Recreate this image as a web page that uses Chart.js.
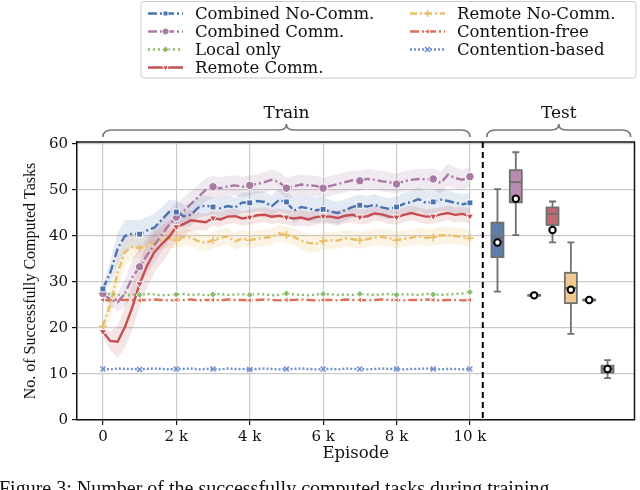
<!DOCTYPE html>
<html lang="en">
<head>
<meta charset="UTF-8">
<title>Successfully Computed Tasks</title>
<script src="https://cdn.jsdelivr.net/npm/chart.js"></script>
<style>
    html, body { margin: 0; padding: 0; background: #fff; overflow: hidden; }
    #wrap { position: relative; width: 640px; height: 490px; }
    #caption { position: absolute; left: -1px; top: 477px; font: 20px "Liberation Serif", serif; white-space: nowrap; color: #111; }
</style>
</head>
<body>
<div id="wrap">
    <canvas id="tasksChart" width="640" height="490"></canvas>
    <div id="caption">Figure 3: Number of the successfully computed tasks during training</div>
</div>

<script>
    // training curves, one value every 200 episodes
    const episodes = [0,200,400,600,800,1000,1200,1400,1600,1800,2000,2200,2400,2600,2800,3000,3200,3400,3600,3800,4000,
        4200,4400,4600,4800,5000,5200,5400,5600,5800,6000,6200,6400,6600,6800,7000,7200,7400,7600,7800,8000,
        8200,8400,8600,8800,9000,9200,9400,9600,9800,10000];

    const combinedNoComm = [28.5,32.0,37.2,40.0,40.5,40.4,41.2,41.8,43.5,45.2,45.2,44.3,44.6,46.2,46.6,46.3,46.0,46.5,46.2,47.3,47.2,
        47.6,47.4,46.5,47.8,47.4,45.5,46.3,46.0,45.6,45.8,45.3,45.0,45.6,46.3,46.7,46.4,46.8,46.2,45.9,46.3,
        47.0,47.4,48.0,47.2,47.4,47.9,47.6,47.2,46.9,47.2];
    const combinedNoCommSpread = [0.8,2.5,3.5,3.5,3.0,3.0,3.0,3.0,2.8,2.6,2.5,2.5,2.4,2.3,2.2,2.2,2.2,2.2,2.2,2.2,2.2,
        2.2,2.2,2.3,2.4,2.5,2.8,2.8,2.8,2.8,2.6,2.5,2.5,2.4,2.3,2.3,2.3,2.3,2.3,2.3,2.3,
        2.4,2.5,2.6,2.6,2.5,2.4,2.3,2.2,2.2,2.2];

    const combinedComm = [27.5,26.2,25.6,27.5,31.0,33.3,35.8,38.0,40.2,42.4,44.1,45.4,47.0,48.5,50.0,50.7,50.4,50.8,51.0,50.7,51.0,
        51.3,51.7,52.2,51.7,50.4,50.8,51.2,51.0,50.9,50.4,50.9,51.3,51.7,52.1,52.0,52.4,52.2,51.9,51.7,51.3,
        51.9,52.2,52.4,52.3,52.4,51.5,53.3,52.6,52.2,52.9];
    const combinedCommSpread = [1.0,1.5,2.0,3.0,4.0,4.0,4.0,3.8,3.5,3.2,3.0,3.0,2.8,2.6,2.5,2.4,2.3,2.3,2.2,2.2,2.2,
        2.2,2.2,2.2,2.2,2.3,2.3,2.2,2.2,2.2,2.2,2.2,2.2,2.2,2.2,2.2,2.2,2.2,2.2,2.2,2.2,
        2.2,2.2,2.2,2.2,2.3,2.4,2.4,2.3,2.2,2.2];

    const localOnly = [27.3,27.4,27.2,27.1,27.3,27.2,27.4,27.3,27.1,27.2,27.3,27.4,27.2,27.3,27.1,27.3,27.4,27.2,27.3,27.3,27.2,
        27.4,27.3,27.1,27.2,27.5,27.3,27.2,27.1,27.3,27.4,27.3,27.2,27.3,27.2,27.4,27.3,27.2,27.3,27.4,27.2,
        27.3,27.3,27.2,27.4,27.3,27.2,27.3,27.4,27.5,27.8];

    const remoteComm = [19.2,17.2,17.0,20.2,24.5,29.6,33.5,36.5,38.2,39.8,42.0,42.6,43.4,43.2,43.0,43.9,43.6,44.2,44.3,43.8,44.1,
        44.5,44.6,44.2,44.4,44.1,43.8,44.0,43.6,44.1,44.3,44.2,43.9,44.4,44.6,44.1,44.3,44.9,44.7,44.2,44.1,
        44.6,45.0,44.6,44.2,44.3,44.7,45.0,44.6,44.8,44.3];
    const remoteCommSpread = [1.0,2.0,3.5,4.5,5.0,5.0,4.8,4.5,4.0,3.5,3.0,2.5,2.2,2.0,1.8,1.7,1.6,1.6,1.6,1.6,1.6,
        1.6,1.6,1.6,1.6,1.6,1.7,1.7,1.6,1.6,1.6,1.6,1.6,1.6,1.6,1.6,1.6,1.6,1.6,1.6,1.6,
        1.6,1.6,1.6,1.6,1.6,1.6,1.6,1.6,1.6,1.6];

    const remoteNoComm = [20.4,25.0,32.0,36.5,37.6,37.4,37.8,38.6,39.1,39.5,39.1,39.8,39.6,38.9,38.5,39.1,39.6,39.9,38.8,39.5,39.1,
        39.4,39.6,39.8,40.6,40.2,39.8,39.0,38.5,38.3,38.9,39.1,39.0,39.5,39.3,39.1,39.3,39.7,39.8,39.5,39.1,
        39.4,39.6,40.0,39.6,39.7,40.1,40.2,40.0,39.8,39.5];
    const remoteNoCommSpread = [1.0,3.0,3.5,3.0,2.5,2.2,2.0,2.0,2.0,2.0,1.8,1.8,1.8,1.8,1.8,1.8,1.8,1.8,1.8,1.8,1.8,
        1.8,1.8,1.8,1.8,1.8,1.8,1.9,1.9,1.9,1.8,1.8,1.8,1.8,1.8,1.8,1.8,1.8,1.8,1.8,1.8,
        1.8,1.8,1.8,1.8,1.8,1.8,1.8,1.8,1.8,1.8];

    const contentionFree = [26.1,26.0,26.2,26.1,26.1,26.0,26.1,26.2,26.1,26.0,26.1,26.1,26.2,26.0,26.1,26.1,26.0,26.2,26.1,26.1,26.0,
        26.1,26.2,26.1,26.0,26.1,26.1,26.2,26.1,26.0,26.1,26.1,26.0,26.2,26.1,26.1,26.0,26.1,26.2,26.1,26.1,
        26.0,26.1,26.1,26.2,26.1,26.0,26.1,26.1,26.0,26.1];

    const contentionBased = [11.1,11.0,11.2,11.1,11.1,11.0,11.1,11.2,11.1,11.0,11.1,11.1,11.2,11.0,11.1,11.1,11.0,11.2,11.1,11.1,11.0,
        11.1,11.2,11.1,11.0,11.1,11.1,11.2,11.1,11.0,11.1,11.1,11.0,11.2,11.1,11.1,11.0,11.1,11.2,11.1,11.1,
        11.0,11.1,11.1,11.2,11.1,11.0,11.1,11.1,11.0,11.1];

    // test boxes, order: CNC, CC, Local, RC, RNC, CF, CB
    const testMin    = [27.9, 40.2, 26.95, 38.6, 18.7, 25.85,  9.1];
    const testQ1     = [35.4, 47.3, 27.0,  42.4, 25.4, 25.95, 10.3];
    const testMedian = [39.7, 51.7, 27.1,  44.8, 28.7, 26.05, 11.1];
    const testQ3     = [42.9, 54.3, 27.2,  46.2, 32.0, 26.2,  11.8];
    const testMax    = [50.2, 58.2, 27.25, 47.5, 38.6, 26.3,  13.0];
    const testMean   = [38.6, 48.1, 27.1,  41.3, 28.3, 26.1,  11.1];

    const xTickValues = [0, 2000, 4000, 6000, 8000, 10000];
    const yTickValues = [0, 10, 20, 30, 40, 50, 60];

    const colors = {
        cnc: '#4c72b0', cc: '#a97aa3', local: '#88bb6c', rc: '#c44e52',
        rnc: '#eabf68', cf: '#dd6f57', cb: '#7090d0'
    };
    const boxFill = ['#5d7ea9', '#b98bb0', '#a9b8a0', '#bf6a72', '#f1c98e', '#c8a098', '#9aa0b0'];

    const serif = 'DejaVu Serif';

    function pts(values) {
        return episodes.map((x, i) => ({ x: x, y: values[i] }));
    }

    function lineSet(label, values, color, dash, style, rot, radius) {
        return {
            label: label,
            data: pts(values),
            borderColor: color,
            backgroundColor: color,
            borderWidth: 2.4,
            borderDash: dash,
            pointStyle: style,
            pointRotation: rot,
            pointRadius: ctx => (ctx.dataIndex % 5 === 0 ? radius : 0),
            pointBackgroundColor: color,
            pointBorderColor: style === 'cross' || style === 'crossRot' ? color : '#fff',
            pointBorderWidth: style === 'cross' || style === 'crossRot' ? 1.5 : 1,
            fill: false,
            tension: 0,
            order: 1
        };
    }

    function bandSets(values, spread, color) {
        const hi = values.map((v, i) => v + spread[i]);
        const lo = values.map((v, i) => v - spread[i]);
        return [
            { data: pts(hi), borderWidth: 0, pointRadius: 0, fill: false, order: 10 },
            { data: pts(lo), borderWidth: 0, pointRadius: 0, fill: '-1', backgroundColor: color, order: 10 }
        ];
    }

    const lines = [
        lineSet('Combined No-Comm.', combinedNoComm, colors.cnc, [9, 3, 2, 3], 'rect', 0, 4.2),
        lineSet('Combined Comm.', combinedComm, colors.cc, [9, 3, 2, 3], 'circle', 0, 4.2),
        lineSet('Local only', localOnly, colors.local, [2, 3], 'rectRot', 0, 3.5),
        lineSet('Remote Comm.', remoteComm, colors.rc, [], 'triangle', 180, 4.2),
        lineSet('Remote No-Comm.', remoteNoComm, colors.rnc, [7, 3, 2, 3], 'cross', 0, 4),
        lineSet('Contention-free', contentionFree, colors.cf, [9, 3, 2, 3], 'triangle', -90, 3.5),
        lineSet('Contention-based', contentionBased, colors.cb, [2, 2], 'crossRot', 0, 3.5)
    ];

    const datasets = [
        ...bandSets(combinedComm, combinedCommSpread, 'rgba(169,122,163,0.17)'),
        ...bandSets(remoteComm, remoteCommSpread, 'rgba(196,78,82,0.15)'),
        ...bandSets(combinedNoComm, combinedNoCommSpread, 'rgba(76,114,176,0.15)'),
        ...bandSets(remoteNoComm, remoteNoCommSpread, 'rgba(234,191,104,0.18)'),
        ...lines
    ];

    function drawBrace(ctx, x0, x1, y) {
        const xc = (x0 + x1) / 2;
        ctx.beginPath();
        ctx.moveTo(x0, y + 7);
        ctx.quadraticCurveTo(x0, y, x0 + 9, y);
        ctx.lineTo(xc - 7, y);
        ctx.quadraticCurveTo(xc, y, xc, y - 6);
        ctx.quadraticCurveTo(xc, y, xc + 7, y);
        ctx.lineTo(x1 - 9, y);
        ctx.quadraticCurveTo(x1, y, x1, y + 7);
        ctx.stroke();
    }

    const extrasPlugin = {
        id: 'extras',
        afterDatasetsDraw(chart) {
            const ctx = chart.ctx;
            const xs = chart.scales.x, ys = chart.scales.y;
            const area = chart.chartArea;
            ctx.save();

            // train / test divider
            ctx.strokeStyle = '#000';
            ctx.lineWidth = 2;
            ctx.setLineDash([6, 4]);
            const xd = xs.getPixelForValue(10350);
            ctx.beginPath();
            ctx.moveTo(xd, area.top);
            ctx.lineTo(xd, area.bottom);
            ctx.stroke();
            ctx.setLineDash([]);

            // test boxplots
            for (let i = 0; i < testMin.length; i++) {
                const cx = xs.getPixelForValue(10750 + 500 * i);
                const half = 6, cap = 3.5;
                const yMin = ys.getPixelForValue(testMin[i]);
                const yMax = ys.getPixelForValue(testMax[i]);
                const yQ1 = ys.getPixelForValue(testQ1[i]);
                const yQ3 = ys.getPixelForValue(testQ3[i]);
                const yMed = ys.getPixelForValue(testMedian[i]);
                ctx.strokeStyle = '#707070';
                ctx.lineWidth = 1.8;
                ctx.beginPath();
                ctx.moveTo(cx, yMax); ctx.lineTo(cx, yQ3);
                ctx.moveTo(cx, yQ1); ctx.lineTo(cx, yMin);
                ctx.moveTo(cx - cap, yMax); ctx.lineTo(cx + cap, yMax);
                ctx.moveTo(cx - cap, yMin); ctx.lineTo(cx + cap, yMin);
                ctx.stroke();
                ctx.fillStyle = boxFill[i];
                ctx.fillRect(cx - half, yQ3, half * 2, yQ1 - yQ3);
                ctx.strokeRect(cx - half, yQ3, half * 2, yQ1 - yQ3);
                ctx.beginPath();
                ctx.moveTo(cx - half, yMed); ctx.lineTo(cx + half, yMed);
                ctx.stroke();
                // mean marker
                ctx.beginPath();
                ctx.arc(cx, ys.getPixelForValue(testMean[i]), 3.2, 0, Math.PI * 2);
                ctx.fillStyle = '#fff';
                ctx.fill();
                ctx.strokeStyle = '#000';
                ctx.lineWidth = 2;
                ctx.stroke();
            }

            // top and right spines
            ctx.strokeStyle = '#111';
            ctx.lineWidth = 1.5;
            ctx.beginPath();
            ctx.moveTo(area.left, area.top);
            ctx.lineTo(area.right, area.top);
            ctx.lineTo(area.right, area.bottom);
            ctx.stroke();
            ctx.restore();
        },
        afterDraw(chart) {
            const ctx = chart.ctx;
            const xs = chart.scales.x;
            ctx.save();

            // braces with Train / Test labels
            ctx.strokeStyle = '#777';
            ctx.lineWidth = 1.6;
            const t0 = xs.getPixelForValue(0), t1 = xs.getPixelForValue(10000);
            const s0 = xs.getPixelForValue(10460), s1 = xs.getPixelForValue(14380);
            drawBrace(ctx, t0, t1, 130);
            drawBrace(ctx, s0, s1, 130);
            ctx.fillStyle = '#111';
            ctx.font = '17px "' + serif + '"';
            ctx.textAlign = 'center';
            ctx.textBaseline = 'middle';
            ctx.fillText('Train', (t0 + t1) / 2, 114);
            ctx.fillText('Test', (s0 + s1) / 2, 114);

            // legend box, two columns
            ctx.fillStyle = 'rgba(255,255,255,0.9)';
            ctx.strokeStyle = '#cccccc';
            ctx.lineWidth = 1;
            ctx.beginPath();
            ctx.roundRect(141, 1.5, 495, 76.5, 3);
            ctx.fill();
            ctx.stroke();

            lines.forEach((ds, i) => {
                const col = i < 4 ? 0 : 1;
                const row = i < 4 ? i : i - 4;
                const x0 = col === 0 ? 148 : 410;
                const y = 13.5 + row * 18;
                ctx.strokeStyle = ds.borderColor;
                ctx.lineWidth = ds.borderWidth;
                ctx.setLineDash(ds.borderDash);
                ctx.beginPath();
                ctx.moveTo(x0, y);
                ctx.lineTo(x0 + 35, y);
                ctx.stroke();
                ctx.setLineDash([]);
                if (Chart.helpers && Chart.helpers.drawPoint) {
                    ctx.fillStyle = ds.pointBackgroundColor;
                    ctx.strokeStyle = ds.pointBorderColor;
                    ctx.lineWidth = ds.pointBorderWidth;
                    Chart.helpers.drawPoint(ctx, {
                        pointStyle: ds.pointStyle, radius: 3.5, rotation: ds.pointRotation, borderWidth: ds.pointBorderWidth
                    }, x0 + 17.5, y);
                }
                ctx.fillStyle = '#111';
                ctx.font = '16.5px "' + serif + '"';
                ctx.textAlign = 'left';
                ctx.textBaseline = 'middle';
                ctx.fillText(ds.label, x0 + 47, y + 1);
            });
            ctx.restore();
        }
    };

    const tickFont = { family: serif, size: 15 };

    const ctx = document.getElementById('tasksChart').getContext('2d');
    const tasksChart = new Chart(ctx, {
        type: 'line',
        data: { datasets: datasets },
        options: {
            responsive: false,
            animation: false,
            layout: { padding: { top: 142, right: 4, left: 21, bottom: 26 } },
            plugins: {
                legend: { display: false },
                tooltip: { enabled: false }
            },
            scales: {
                x: {
                    type: 'linear',
                    min: -706,
                    max: 14484,
                    afterBuildTicks: axis => { axis.ticks = xTickValues.map(v => ({ value: v })); },
                    afterFit: axis => { axis.height = 44; },
                    ticks: {
                        font: tickFont, color: '#111', padding: 3, maxRotation: 0, autoSkip: false,
                        callback: v => (v === 0 ? '0' : (v / 1000) + ' k')
                    },
                    grid: { color: '#cbcbcb', lineWidth: 1.2, tickColor: '#111', tickLength: 5 },
                    border: { color: '#111', width: 1.5 },
                    title: { display: true, text: 'Episode', font: { family: serif, size: 16.5 }, color: '#111', padding: { top: 0, bottom: 0 } }
                },
                y: {
                    min: 0,
                    max: 60.43,
                    afterBuildTicks: axis => { axis.ticks = yTickValues.map(v => ({ value: v })); },
                    afterFit: axis => { axis.width = 56; },
                    ticks: { font: tickFont, color: '#111', padding: 4 },
                    grid: { color: '#cbcbcb', lineWidth: 1.2, tickColor: '#111', tickLength: 5 },
                    border: { color: '#111', width: 1.5 },
                    title: {
                        display: true, text: 'No. of Successfully Computed Tasks',
                        font: { family: 'Liberation Serif', size: 16 }, color: '#111', padding: { top: 0, bottom: 0 }
                    }
                }
            }
        },
        plugins: [extrasPlugin]
    });
</script>
</body>
</html>
